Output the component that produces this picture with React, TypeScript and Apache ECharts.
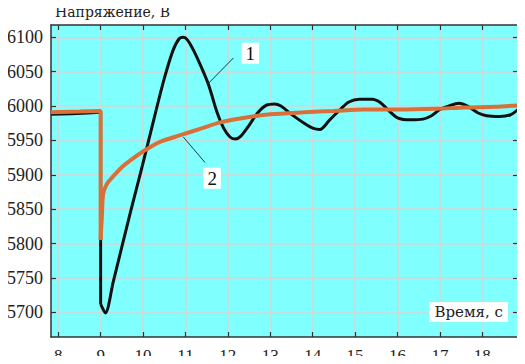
import React, { useEffect, useRef } from "react";
import * as echarts from "echarts";

const xTicks = [8, 9, 10, 11, 12, 13, 14, 15, 16, 17, 18];
const yTicks = [5700, 5750, 5800, 5850, 5900, 5950, 6000, 6050, 6100];

const time1 = [7.83, 8.3, 8.7, 9.0, 9.0, 9.11, 9.3, 9.5, 9.7, 9.9, 10.1, 10.3, 10.5, 10.7, 10.85, 10.95, 11.05, 11.2, 11.4, 11.55, 11.75, 11.9, 12.05, 12.17, 12.3, 12.5, 12.7, 12.9, 13.1, 13.25, 13.5, 13.8, 14.0, 14.17, 14.4, 14.65, 14.85, 15.1, 15.4, 15.6, 15.8, 16.0, 16.3, 16.6, 16.8, 17.0, 17.2, 17.45, 17.65, 17.9, 18.1, 18.4, 18.65, 18.84];
const volt1 = [5988, 5989, 5990, 5991, 5712, 5699, 5745, 5795, 5845, 5893, 5942, 5992, 6040, 6080, 6098, 6100, 6096, 6080, 6053, 6030, 5990, 5968, 5955, 5952, 5956, 5972, 5990, 6001, 6003, 6000, 5988, 5975, 5968, 5966, 5980, 5995, 6006, 6010, 6010, 6005, 5993, 5983, 5980, 5981, 5986, 5995, 6000, 6004, 6000, 5990, 5986, 5985, 5987, 5995];

const time2 = [7.83, 8.5, 9.0, 9.0, 9.03, 9.06, 9.15, 9.3, 9.5, 9.7, 10.0, 10.4, 10.9, 11.4, 11.8, 12.4, 13.0, 13.8, 14.5, 15.2, 16.0, 16.9, 17.6, 18.3, 18.84];
const volt2 = [5991, 5992, 5993, 5805, 5840, 5872, 5887, 5898, 5911, 5921, 5934, 5948, 5958, 5968, 5976, 5983, 5988, 5991, 5993, 5995, 5995, 5996, 5998, 5999, 6001];

// index where the step at t = 9 s ends (start of the smooth recovery part)
const STEP_END_1 = 4;
const STEP_END_2 = 3;

const leader1 = [[11.54, 6033], [12.13, 6070]];
const label1 = [12.53, 6077];
const leader2 = [[10.95, 5955], [11.46, 5918]];
const label2 = [11.63, 5895];

const X_MIN = 7.83;
const X_MAX = 18.84;
const Y_MIN = 5664;
const Y_MAX = 6118;

const FONT = "Liberation Serif, Times New Roman, DejaVu Serif, serif";
const WIDE_FONT = "DejaVu Serif, Liberation Serif, serif";

export default function App() {
  const ref = useRef<HTMLDivElement>(null);
  useEffect(() => {
    if (!ref.current) return;
    const chart = echarts.init(ref.current, undefined, { renderer: "svg" });
    const axisLine = { show: true, lineStyle: { color: "#333", width: 1.5 } };
    const tick = (vals: number[]) => ({
      show: true,
      inside: true,
      length: 5,
      customValues: vals,
      lineStyle: { color: "#333", width: 1.2 },
    });
    const grid = { show: true, lineStyle: { color: "#d6d6d6", width: 1.5 } };
    const pts1 = time1.map((t, i) => [t, volt1[i]]);
    const pts2 = time2.map((t, i) => [t, volt2[i]]);
    const fmt = (v: number) => String(v);
    chart.setOption({
      animation: false,
      backgroundColor: "#ffffff",
      textStyle: { fontFamily: FONT },
      grid: {
        left: 51,
        right: 7,
        top: 25,
        bottom: 27,
        show: true,
        backgroundColor: "#80ffff",
        borderWidth: 0,
      },
      xAxis: [
        {
          type: "value",
          min: X_MIN,
          max: X_MAX,
          position: "bottom",
          axisLine,
          axisTick: tick(xTicks),
          splitLine: grid,
          axisLabel: {
            color: "#222",
            fontFamily: FONT,
            fontSize: 17,
            formatter: fmt,
            customValues: xTicks,
            margin: 18,
            verticalAlign: "middle",
          },
        },
        {
          type: "value",
          min: X_MIN,
          max: X_MAX,
          position: "top",
          axisLine,
          axisTick: tick(xTicks),
          splitLine: { show: false },
          axisLabel: { show: false },
        },
      ],
      yAxis: [
        {
          type: "value",
          min: Y_MIN,
          max: Y_MAX,
          position: "left",
          axisLine,
          axisTick: tick(yTicks),
          splitLine: grid,
          axisLabel: {
            color: "#222",
            fontFamily: FONT,
            fontSize: 18,
            formatter: fmt,
            customValues: yTicks,
            margin: 8,
          },
        },
        {
          type: "value",
          min: Y_MIN,
          max: Y_MAX,
          position: "right",
          axisLine,
          axisTick: tick(yTicks),
          splitLine: { show: false },
          axisLabel: { show: false },
        },
      ],
      series: [
        {
          type: "line",
          data: pts1.slice(0, STEP_END_1 + 1),
          showSymbol: false,
          lineStyle: { color: "#111111", width: 3 },
          z: 3,
        },
        {
          type: "line",
          data: pts1.slice(STEP_END_1),
          showSymbol: false,
          smooth: 0.3,
          lineStyle: { color: "#111111", width: 3 },
          z: 3,
          markLine: {
            silent: true,
            symbol: "none",
            label: { show: false },
            lineStyle: { color: "#1a3a4a", width: 1, type: "solid" },
            data: [
              [{ coord: leader1[0] }, { coord: leader1[1] }],
              [{ coord: leader2[0] }, { coord: leader2[1] }],
            ],
          },
          markPoint: {
            silent: true,
            symbol: "rect",
            symbolSize: 0,
            label: {
              show: true,
              position: "inside",
              color: "#111",
              fontFamily: FONT,
              fontSize: 19,
              backgroundColor: "#ffffff",
              padding: [2, 4, 0, 4],
            },
            data: [
              { coord: label1, value: "1" },
              { coord: label2, value: "2" },
            ],
          },
        },
        {
          type: "line",
          data: pts2.slice(0, STEP_END_2 + 1),
          showSymbol: false,
          lineStyle: { color: "#d9703a", width: 4 },
          z: 4,
        },
        {
          type: "line",
          data: pts2.slice(STEP_END_2),
          showSymbol: false,
          smooth: 0.3,
          lineStyle: { color: "#d9703a", width: 4 },
          z: 4,
        },
      ],
      graphic: [
        {
          type: "text",
          x: 55,
          y: 5,
          style: {
            text: "Напряжение, В",
            fill: "#222",
            fontFamily: WIDE_FONT,
            fontSize: 14,
            align: "left",
            verticalAlign: "top",
          },
        },
        {
          type: "text",
          x: 508,
          y: 312,
          z: 10,
          style: {
            text: "Время, с",
            fill: "#222",
            fontFamily: WIDE_FONT,
            fontSize: 15,
            align: "right",
            verticalAlign: "middle",
            backgroundColor: "#ffffff",
            padding: [3, 5, 2, 5],
          },
        },
      ],
    });
    return () => chart.dispose();
  }, []);
  return <div ref={ref} style={{ width: 525, height: 364, margin: -8 }} />;
}
